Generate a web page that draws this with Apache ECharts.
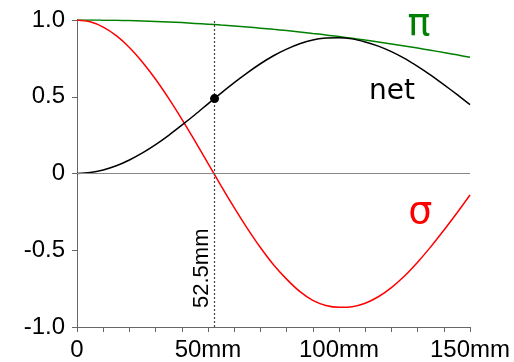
<!DOCTYPE html>
<html>
<head>
<meta charset="utf-8">
<script src="https://cdn.jsdelivr.net/npm/echarts@6/dist/echarts.min.js"></script>
<style>
html,body{margin:0;padding:0;background:#fff;}
#chart{width:514px;height:362px;}
</style>
</head>
<body>
<div id="chart"></div>
<script>
// distance along x (mm)
const xs = [0,5,10,15,20,25,30,35,40,45,50,55,60,65,70,75,80,85,90,95,100,105,110,115,120,125,130,135,140,145,150];
// pi overlap (green)
const piVals = [1.000,1.000,0.999,0.998,0.996,0.993,0.990,0.987,0.983,0.978,0.973,0.967,0.961,0.954,0.947,0.939,0.931,0.922,0.912,0.903,0.892,0.881,0.869,0.857,0.844,0.831,0.817,0.803,0.788,0.773,0.757];
// sigma overlap (red)
const sigmaVals = [1.000,0.988,0.954,0.898,0.821,0.725,0.614,0.489,0.354,0.212,0.066,-0.080,-0.222,-0.357,-0.482,-0.594,-0.688,-0.768,-0.827,-0.860,-0.872,-0.868,-0.845,-0.803,-0.743,-0.668,-0.578,-0.478,-0.370,-0.257,-0.140];
// net (black)
const netVals = [0.000,0.006,0.023,0.050,0.088,0.134,0.188,0.249,0.315,0.383,0.454,0.524,0.592,0.656,0.715,0.767,0.810,0.845,0.870,0.882,0.885,0.877,0.857,0.830,0.794,0.750,0.698,0.641,0.579,0.515,0.449];
// highlighted point and marker line
const markX = 52.5;
const markLabel = '52.5mm';
const dotPoint = [52.5, 0.488];
// curve name labels and their anchor positions (data coords)
const curveLabels = [
  {text: 'π', x: 130.5, y: 0.845, color: '#008000', size: 38},
  {text: 'net', x: 120.2, y: 0.441, color: '#000000', size: 28},
  {text: 'σ', x: 131, y: -0.384, color: '#ff0000', size: 38}
];
const xTickLabels = {0: '0', 50: '50mm', 100: '100mm', 150: '150mm'};
const yTickLabels = {'1': '1.0', '0.5': '0.5', '0': '0', '-0.5': '-0.5', '-1': '-1.0'};

const zip = (a, b) => a.map((v, i) => [v, b[i]]);

const chart = echarts.init(document.getElementById('chart'), null, {renderer: 'canvas'});
const axisColor = '#666';
chart.setOption({
  animation: false,
  grid: {left: 77, right: 44, top: 20, bottom: 33, containLabel: false},
  xAxis: {
    type: 'value', min: 0, max: 150, interval: 10,
    axisLine: {show: true, onZero: false, lineStyle: {color: axisColor, width: 1}},
    axisTick: {show: true, length: 5, inside: false, lineStyle: {color: axisColor}},
    splitLine: {show: false},
    axisLabel: {
      color: '#000', fontFamily: 'Liberation Sans', fontSize: 24, margin: 11,
      showMinLabel: true, showMaxLabel: true,
      formatter: v => (xTickLabels[v] !== undefined ? xTickLabels[v] : '')
    }
  },
  yAxis: {
    type: 'value', min: -1, max: 1, interval: 0.5,
    axisLine: {show: true, onZero: false, lineStyle: {color: axisColor, width: 1}},
    axisTick: {show: true, length: 5, lineStyle: {color: axisColor}},
    splitLine: {show: false},
    axisLabel: {
      color: '#000', fontFamily: 'Liberation Sans', fontSize: 24, margin: 12,
      formatter: v => (yTickLabels[String(v)] !== undefined ? yTickLabels[String(v)] : String(v))
    }
  },
  series: [
    {
      type: 'line', name: 'zero', data: [], silent: true,
      markLine: {
        silent: true, symbol: 'none', label: {show: false},
        lineStyle: {color: '#888', type: 'solid', width: 1},
        data: [{yAxis: 0}]
      }
    },
    {
      type: 'line', name: 'mark', data: [], silent: true,
      markLine: {
        silent: true, symbol: 'none', label: {show: false},
        lineStyle: {color: '#444', type: [2, 2], width: 1.2},
        data: [{xAxis: markX}]
      }
    },
    {type: 'line', name: 'π', data: zip(xs, piVals), smooth: 0.3, showSymbol: false,
     lineStyle: {color: '#008000', width: 1.5}},
    {type: 'line', name: 'σ', data: zip(xs, sigmaVals), smooth: 0.3, showSymbol: false,
     lineStyle: {color: '#ff0000', width: 1.5}},
    {type: 'line', name: 'net', data: zip(xs, netVals), smooth: 0.3, showSymbol: false,
     lineStyle: {color: '#000000', width: 1.5}},
    {type: 'scatter', name: 'dot', data: [dotPoint], symbolSize: 9,
     itemStyle: {color: '#000', opacity: 1}, z: 5}
  ]
});

const px = (x, y) => chart.convertToPixel({gridIndex: 0}, [x, y]);
const graphics = curveLabels.map(l => {
  const p = px(l.x, l.y);
  return {
    type: 'text', x: p[0], y: p[1],
    style: {text: l.text, fill: l.color, fontSize: l.size, fontFamily: 'DejaVu Sans',
            align: 'center', verticalAlign: 'bottom'}
  };
});
const mp = px(markX, -0.5);
graphics.push({
  type: 'text', x: mp[0] - 2, y: mp[1] + 18, rotation: Math.PI / 2,
  style: {text: markLabel, fill: '#000', fontSize: 22, fontFamily: 'Liberation Sans',
          align: 'center', verticalAlign: 'bottom'}
});
chart.setOption({graphic: graphics});
</script>
</body>
</html>
